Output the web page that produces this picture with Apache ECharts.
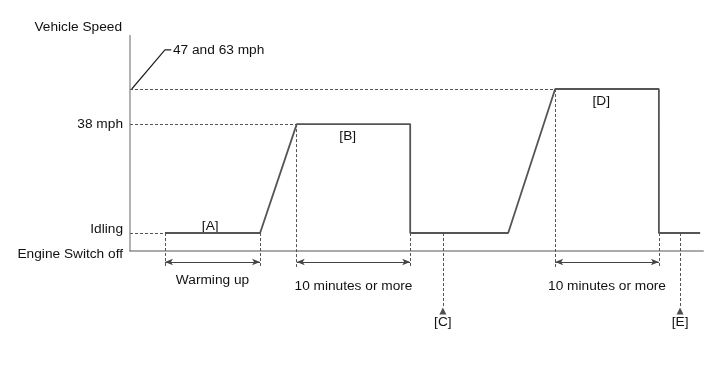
<!DOCTYPE html>
<html><head><meta charset="utf-8">
<script src="https://cdn.jsdelivr.net/npm/echarts@6/dist/echarts.min.js"></script>
<style>html,body{margin:0;padding:0;background:#fff}#c{width:713px;height:381px}</style>
</head><body><div id="c"></div>
<script>
// ---- data ----
const levelNames = ['Engine Switch off', 'Idling', '38 mph'];
const levelValues = [0, 10, 70.5];
const topLevel = 90;
const topLevelLabel = '47 and 63 mph';
const profileTime  = [6.1, 22.7, 29.1, 48.9, 48.9, 66.0, 74.2, 92.3, 92.3, 99.5];
const profileSpeed = [10, 10, 70.5, 70.5, 10, 10, 90, 90, 10, 10];
const phaseLabels = ['[A]', '[B]', '[D]'];
const phaseSpans = [[6.1, 22.7], [29.1, 48.9], [74.2, 92.3]];
const phaseLevels = [10, 70.5, 90];
const spanLabels = ['Warming up', '10 minutes or more', '10 minutes or more'];
const checkTimes = [54.6, 96.0];
const checkLabels = ['[C]', '[E]'];

// ---- build ----
const FONT = "'Liberation Sans', Arial, sans-serif";
const TXT = '#111';
const FS = 13.7;
const dimY = -6.1, extY = -8.9, checkEnd = -31, triY = -33.3, checkLblY = -39.4;
const dash = {type: [3, 2], color: '#555', width: 1};
const guides = [];
guides.push([{coord: [0, levelValues[1]]}, {coord: [profileTime[0], levelValues[1]]}]);
guides.push([{coord: [0, levelValues[2]]}, {coord: [profileTime[2], levelValues[2]]}]);
guides.push([{coord: [0, topLevel]}, {coord: [profileTime[6], topLevel]}]);
phaseSpans.forEach((s, i) => {
  guides.push([{coord: [s[0], phaseLevels[i]]}, {coord: [s[0], extY]}]);
  guides.push([{coord: [s[1], 10]}, {coord: [s[1], extY]}]);
});
checkTimes.forEach(t => guides.push([{coord: [t, 10]}, {coord: [t, checkEnd]}]));

const dims = phaseSpans.map(s => [{coord: [s[0], dimY]}, {coord: [s[1], dimY]}]);

const textItems = [];
phaseSpans.forEach((s, i) => {
  const mid = (s[0] + s[1]) / 2;
  const y = i === 0 ? phaseLevels[i] + 3.9 : phaseLevels[i] - 7;
  textItems.push({value: [mid - (i === 0 ? 0.4 : 1), y], name: phaseLabels[i]});
  textItems.push({value: [mid, i === 0 ? -16.1 : -19.4], name: spanLabels[i]});
});
checkTimes.forEach((t, i) => textItems.push({value: [t, checkLblY], name: checkLabels[i]}));
textItems.push({value: [7.5, 111.7], name: topLevelLabel, left: true});

const chart = echarts.init(document.getElementById('c'));
chart.setOption({
  animation: false,
  backgroundColor: '#fff',
  grid: {left: 130, right: 10, top: 35, bottom: 4},
  xAxis: {
    type: 'value', min: 0, max: 100,
    axisLine: {onZero: true, lineStyle: {color: '#aaa', width: 2}},
    axisTick: {show: false}, axisLabel: {show: false}, splitLine: {show: false}
  },
  yAxis: {
    type: 'value', min: -70, max: 120,
    name: 'Vehicle Speed', nameLocation: 'end', nameGap: 8,
    nameTextStyle: {fontFamily: FONT, fontSize: FS, color: TXT, align: 'right', verticalAlign: 'middle', padding: [0, 8, 0, 0]},
    axisLine: {show: false}, axisTick: {show: false}, splitLine: {show: false},
    axisLabel: {
      customValues: levelValues, margin: 7,
      fontFamily: FONT, fontSize: FS, color: TXT,
      formatter: v => {
        const i = levelValues.indexOf(v);
        if (i === 0) return '{low|' + levelNames[0] + '}';
        if (i === 1) return '{up|' + levelNames[1] + '}';
        return i >= 0 ? levelNames[i] : '';
      },
      rich: {
        low: {fontFamily: FONT, fontSize: FS, color: TXT, padding: [6, 0, 0, 0]},
        up: {fontFamily: FONT, fontSize: FS, color: TXT, padding: [0, 0, 8, 0]}
      }
    }
  },
  series: [
    {
      type: 'line', name: 'axis', data: [[0, 0], [0, 120]], symbol: 'none',
      lineStyle: {color: '#666', width: 1}, silent: true
    },
    {
      type: 'line', name: 'leader', data: [[0.3, topLevel], [6.1, 111.7], [7.2, 111.7]], symbol: 'none',
      lineStyle: {color: '#222', width: 1.2}, silent: true
    },
    {
      type: 'line', name: 'speed', symbol: 'none',
      data: profileTime.map((t, i) => [t, profileSpeed[i]]),
      lineStyle: {color: '#555', width: 1.8}, silent: true,
      markLine: {silent: true, symbol: ['none', 'none'], lineStyle: dash, label: {show: false}, data: guides}
    },
    {
      type: 'line', name: 'dims', data: [], silent: true,
      markLine: {silent: true, symbol: ['arrow', 'arrow'], symbolSize: [5, 8],
        lineStyle: {type: 'solid', color: '#444', width: 1}, label: {show: false}, data: dims}
    },
    {
      type: 'scatter', name: 'markers', symbol: 'triangle', symbolSize: [7, 7],
      itemStyle: {color: '#222'}, silent: true,
      data: checkTimes.map(t => [t, triY])
    },
    {
      type: 'scatter', name: 'text', symbolSize: 0, itemStyle: {color: '#111', opacity: 1}, silent: true,
      data: textItems.map(d => ({
        value: d.value, name: d.name,
        label: {show: true, position: d.left ? 'right' : 'inside', distance: 0, formatter: '{b}',
          fontFamily: FONT, fontSize: FS, color: TXT, opacity: 1}
      }))
    }
  ]
});
</script></body></html>
